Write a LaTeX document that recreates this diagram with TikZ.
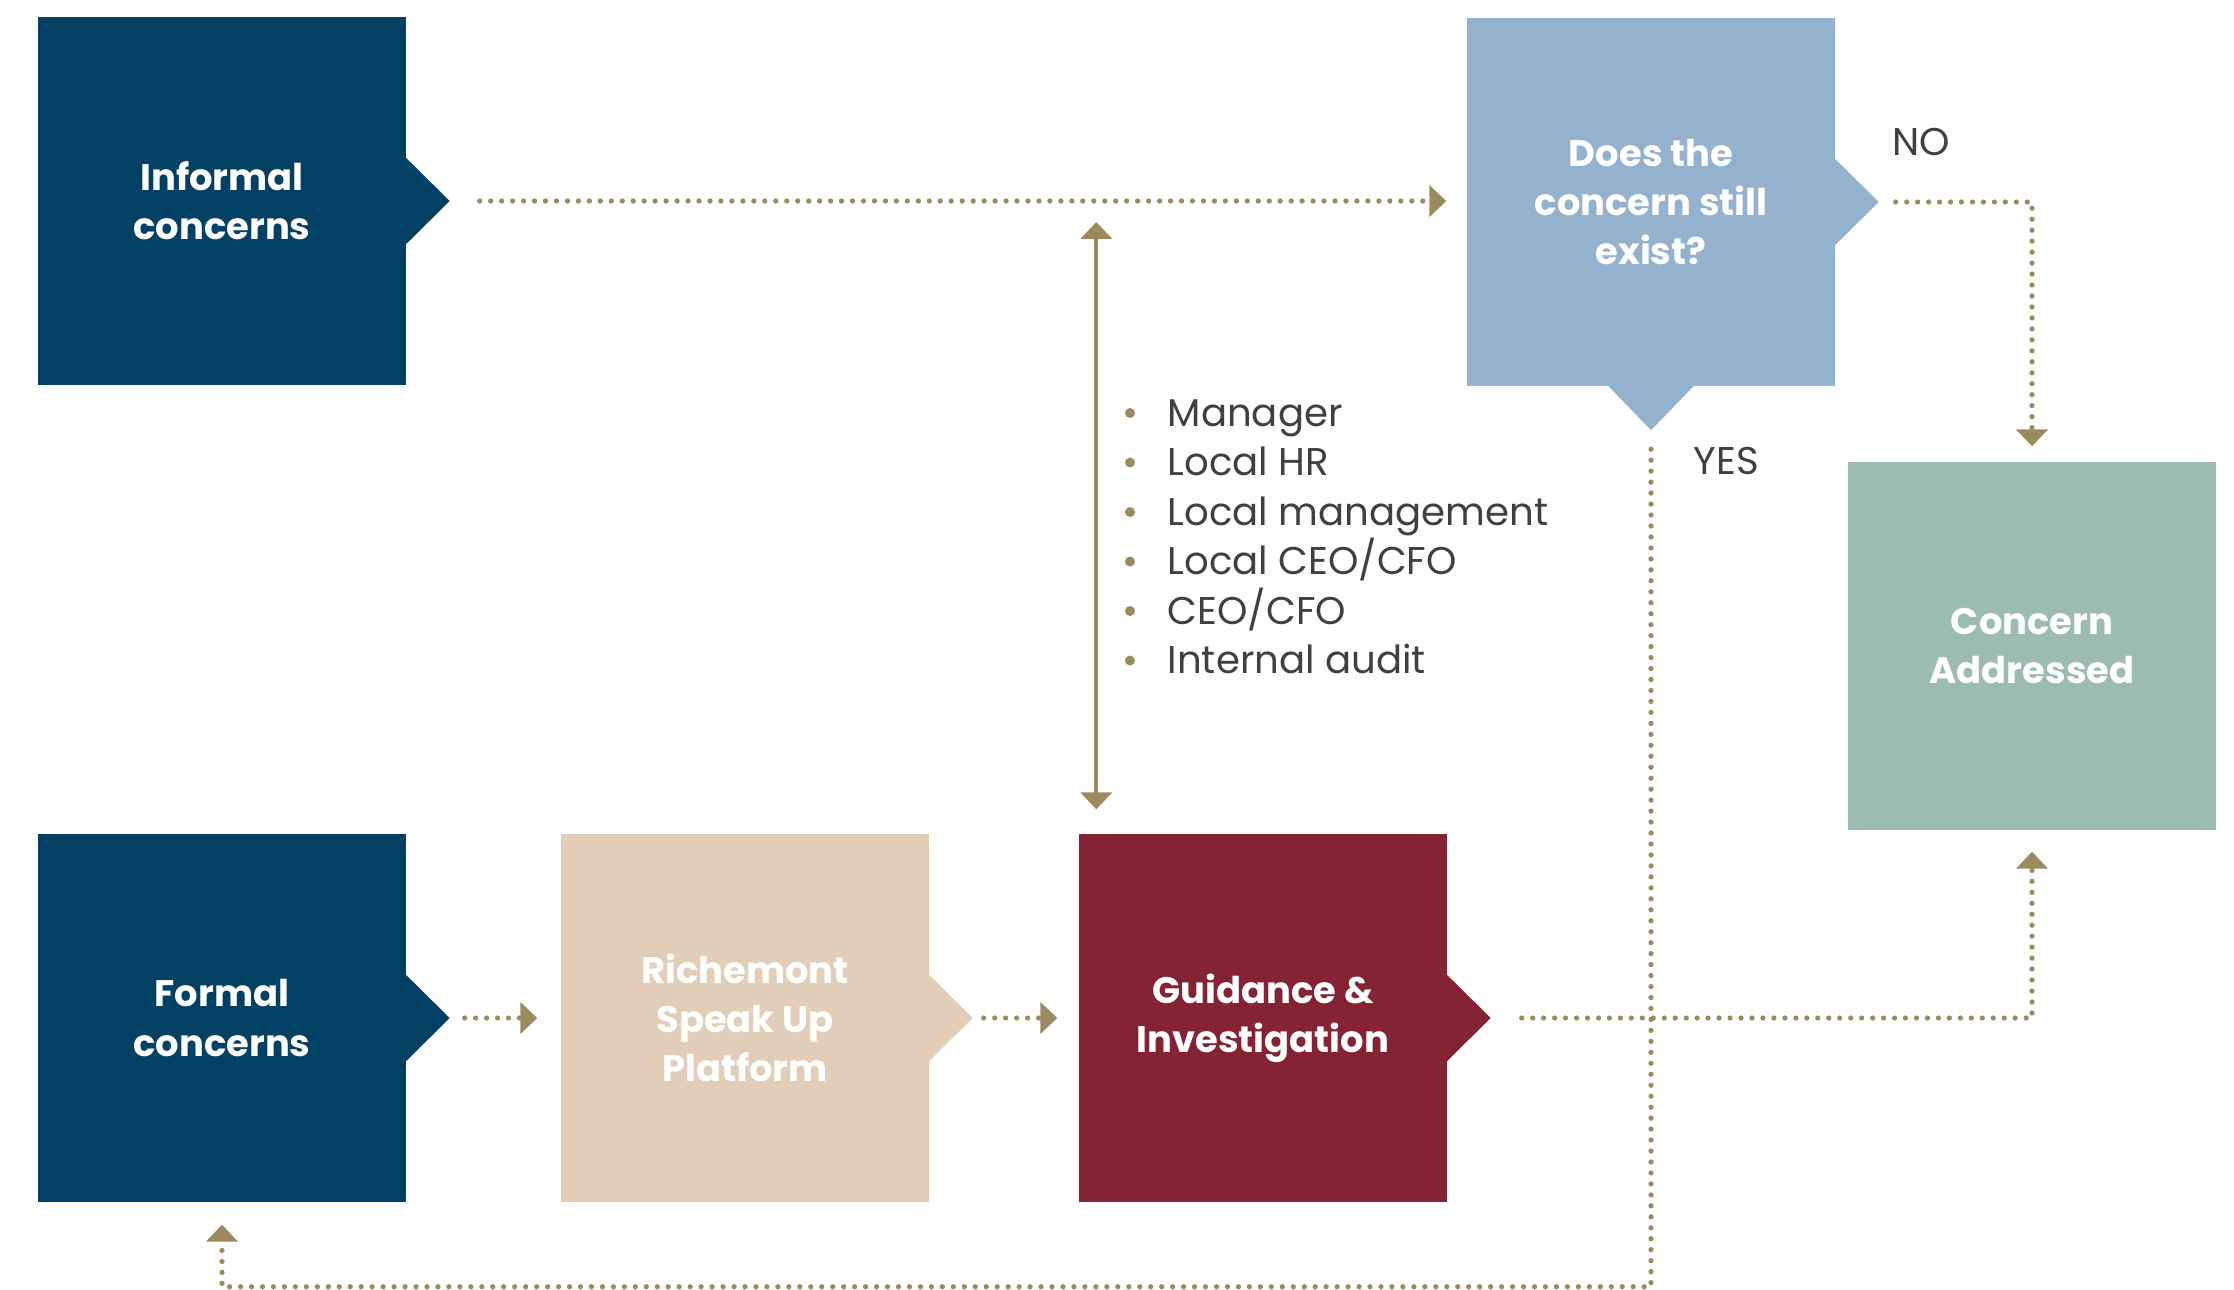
\documentclass[tikz,border=0pt]{standalone}
\usepackage{fontspec}
\setmainfont{Poppins}
\usetikzlibrary{arrows.meta}
\definecolor{navy}{HTML}{034164}
\definecolor{qblue}{HTML}{94B1CD}
\definecolor{sand}{HTML}{E1CDB8}
\definecolor{wine}{HTML}{832334}
\definecolor{sage}{HTML}{9CBCAF}
\definecolor{gold}{HTML}{9A8A5E}
\definecolor{txtgray}{HTML}{404040}
\begin{document}
\begin{tikzpicture}[>={Triangle[width=8.8pt,length=4.8pt]},
    box/.style={minimum width=3.68cm, minimum height=3.68cm, inner sep=0pt,
      text=white, align=center, font=\bfseries\fontsize{10.5}{14}\selectfont},
    flow/.style={->, gold, line width=1.5pt, line cap=round, dash pattern=on 0pt off 3.12pt},
    note/.style={anchor=base west, inner sep=0pt, text=txtgray, font=\fontsize{11}{12}\selectfont}]

    \useasboundingbox (0,0) rectangle (22.34,-12.89);

    % boxes
    \node[box, fill=navy] (inf) at (2.22,-2.01) {Informal\\concerns};
    \node[box, fill=qblue] (ask) at (16.51,-2.02) {Does the\\concern still\\exist?};
    \node[box, fill=navy] (form) at (2.22,-10.18) {Formal\\concerns};
    \node[box, fill=sand] (spk) at (7.45,-10.18) {Richemont\\Speak Up\\Platform};
    \node[box, fill=wine] (guide) at (12.63,-10.18) {Guidance \&\\Investigation};
    \node[box, fill=sage] (done) at (20.32,-6.46) {Concern\\Addressed};

    % chevrons
    \foreach \n/\c in {inf/navy, ask/qblue, form/navy, spk/sand, guide/wine}
        \fill[\c] ([xshift=-0.1mm,yshift=4.35mm]\n.east) -- ++(0.44,-0.435) coordinate (\n-tip) -- ++(-0.44,-0.435) -- cycle;
    \fill[qblue] ([xshift=-4.3mm,yshift=0.1mm]ask.south) -- ++(0.43,-0.445) coordinate (ask-down) -- ++(0.43,0.445) -- cycle;

    % flow
    \draw[flow] ([xshift=3mm]inf-tip) -- ([xshift=-2mm]ask.west |- inf-tip);
    \draw[flow] ([xshift=1.7mm]ask-tip) -| ([yshift=1.5mm]done.north);
    \draw[flow] ([xshift=1.5mm]form-tip) -- ([xshift=-2.3mm]spk.west);
    \draw[flow] ([xshift=1.1mm]spk-tip) -- ([xshift=-2.1mm]guide.west);
    \draw[flow] ([xshift=3.1mm]guide-tip) -| ([yshift=-2.1mm]done.south);
    \coordinate (back) at ([yshift=-8.4mm]form.south -| ask-down);
    \draw[flow] ([yshift=-1.9mm]ask-down) -- (back) -| ([yshift=-2.2mm]form.south);

    \draw[<->, gold, line width=1.2pt] ([xshift=1.8mm,yshift=2.4mm]guide.north west) -- ([xshift=1.8mm,yshift=-2.1mm]guide.north west |- inf-tip);

    \node[note] (no) at ([xshift=1.3mm,yshift=4.7mm]ask-tip) {NO};
    \node[note] (yes) at ([xshift=4.2mm,yshift=-4.4mm]ask-down) {YES};

    % contacts
    \foreach \t [count=\i] in {Manager, Local HR, Local management, Local CEO/CFO, CEO/CFO, Internal audit}{
        \node[note] (it\i) at (11.67,{-4.26-0.495*(\i-1)}) {\t};
        \fill[gold] ([xshift=-3.7mm,yshift=1.3mm]it\i.base west) circle (0.05);
    }

\end{tikzpicture}
\end{document}
